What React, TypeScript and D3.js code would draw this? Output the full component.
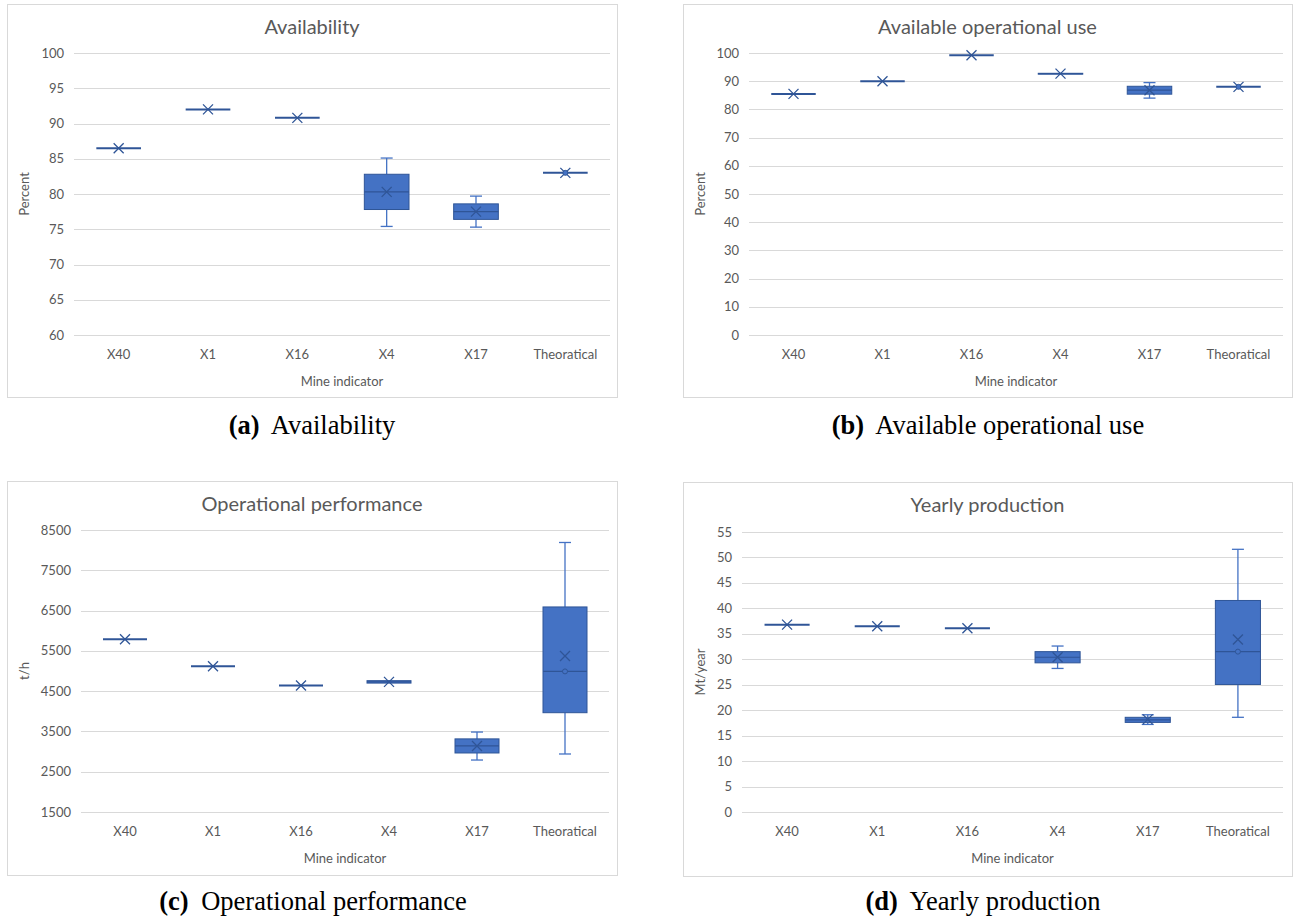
import React from 'react';
import * as d3 from 'd3';

// categories shared by all four charts
const categories = ["X40", "X1", "X16", "X4", "X17", "Theoratical"];

// [min, q1, median, q3, max, mean] per category
const availabilityStats = [
  [86.5, 86.5, 86.5, 86.5, 86.5, 86.5],
  [92, 92, 92, 92, 92, 92],
  [90.8, 90.8, 90.8, 90.8, 90.8, 90.8],
  [75.4, 77.8, 80.3, 82.8, 85.1, 80.3],
  [75.3, 76.4, 77.5, 78.6, 79.7, 77.5],
  [83, 83, 83, 83, 83, 83],
];
const availabilityInner = [null, null, null, null, null, 83];

const operationalUseStats = [
  [85.5, 85.5, 85.5, 85.5, 85.5, 85.5],
  [90, 90, 90, 90, 90, 90],
  [99.2, 99.2, 99.2, 99.2, 99.2, 99.2],
  [92.5, 92.5, 92.7, 92.8, 92.8, 92.7],
  [84.0, 85.4, 86.8, 88.2, 89.5, 86.8],
  [88, 88, 88, 88, 88, 88],
];
const operationalUseInner = [null, null, null, null, null, 88];

const performanceStats = [
  [5790, 5790, 5790, 5790, 5790, 5790],
  [5120, 5120, 5120, 5120, 5120, 5120],
  [4640, 4640, 4640, 4640, 4640, 4640],
  [4700, 4700, 4730, 4760, 4760, 4730],
  [2790, 2965, 3140, 3315, 3485, 3140],
  [2940, 3965, 4990, 6590, 8190, 5373],
];
const performanceInner = [null, null, null, null, null, 4990];

const productionStats = [
  [36.8, 36.8, 36.8, 36.8, 36.8, 36.8],
  [36.5, 36.5, 36.5, 36.5, 36.5, 36.5],
  [36.1, 36.1, 36.1, 36.1, 36.1, 36.1],
  [28.2, 29.3, 30.4, 31.5, 32.6, 30.4],
  [17.2, 17.6, 18.1, 18.6, 19.1, 18.2],
  [18.6, 25.05, 31.5, 41.55, 51.6, 33.9],
];
const productionInner = [null, null, null, null, null, 31.5];

const availabilityTicks = d3.range(60, 101, 5);
const operationalUseTicks = d3.range(0, 101, 10);
const performanceTicks = d3.range(1500, 8501, 1000);
const productionTicks = d3.range(0, 56, 5);

const FILL = "#4472C4";
const DARK = "#2F5597";
const GRID = "#D9D9D9";
const TEXT = "#595959";
const FONT = "Lato, 'Open Sans', sans-serif";

const BoxPanel = ({ frame, plot, title, yLabel, ticks, stats, inner }) => {
  const x = d3.scaleBand().domain(categories).range([plot.left, plot.right]);
  const y = d3.scaleLinear().domain([ticks[0], ticks[ticks.length - 1]]).range([plot.bottom, plot.top]);
  const bw = x.bandwidth() * 0.5;
  const cap = 6;

  return (
    <g>
      <rect x={frame.x + 0.5} y={frame.y + 0.5} width={frame.w} height={frame.h} fill="#fff" stroke={GRID} />
      <text x={frame.x + frame.w / 2} y={frame.y + 30} textAnchor="middle" fontSize={20} fill={TEXT} fontFamily={FONT}>{title}</text>

      {ticks.map(t => (
        <g key={t}>
          <line x1={plot.left} x2={plot.right} y1={Math.round(y(t)) + 0.5} y2={Math.round(y(t)) + 0.5} stroke={GRID} strokeWidth={1.2} />
          <text x={plot.left - 10} y={y(t)} dy="0.35em" textAnchor="end" fontSize={13} fill={TEXT} fontFamily={FONT}>{t}</text>
        </g>
      ))}

      {categories.map((c, i) => {
        const [mn, q1, md, q3, mx, mean] = stats[i];
        const cx = x(c) + x.bandwidth() / 2;
        const h = y(q1) - y(q3);
        const m = y(mean);
        return (
          <g key={c}>
            {mx > q3 && <line x1={cx} x2={cx} y1={y(mx)} y2={y(q3)} stroke={FILL} strokeWidth={1.3} />}
            {mn < q1 && <line x1={cx} x2={cx} y1={y(q1)} y2={y(mn)} stroke={FILL} strokeWidth={1.3} />}
            {mx > q3 && <line x1={cx - cap} x2={cx + cap} y1={y(mx)} y2={y(mx)} stroke={FILL} strokeWidth={1.3} />}
            {mn < q1 && <line x1={cx - cap} x2={cx + cap} y1={y(mn)} y2={y(mn)} stroke={FILL} strokeWidth={1.3} />}
            {h > 0 && <rect x={cx - bw / 2} y={y(q3)} width={bw} height={h} fill={FILL} stroke={DARK} strokeWidth={1} />}
            <line x1={cx - bw / 2} x2={cx + bw / 2} y1={y(md)} y2={y(md)} stroke={DARK} strokeWidth={h > 0 ? 1.2 : 2} />
            <path d={`M${cx - 5},${m - 5}L${cx + 5},${m + 5}M${cx - 5},${m + 5}L${cx + 5},${m - 5}`} stroke={DARK} strokeWidth={1.3} fill="none" />
            {inner[i] != null && <circle cx={cx} cy={y(inner[i])} r={2.5} fill={FILL} stroke={DARK} strokeWidth={1} />}
            <text x={cx} y={plot.bottom + 19} dy="0.35em" textAnchor="middle" fontSize={13} fill={TEXT} fontFamily={FONT}>{c}</text>
          </g>
        );
      })}

      <text x={(plot.left + plot.right) / 2} y={plot.bottom + 46} dy="0.35em" textAnchor="middle" fontSize={13} fill={TEXT} fontFamily={FONT}>Mine indicator</text>
      <text transform={`translate(${frame.x + 17},${(plot.top + plot.bottom) / 2}) rotate(-90)`} dy="0.35em" textAnchor="middle" fontSize={13} fill={TEXT} fontFamily={FONT}>{yLabel}</text>
    </g>
  );
};

const Caption = ({ x, y, tag, text }) => (
  <text x={x} y={y} textAnchor="middle" fontSize={26.5} fontFamily="'Liberation Serif', serif" fill="#000">
    <tspan fontWeight="bold">{tag}</tspan>
    <tspan dx={6}> {text}</tspan>
  </text>
);

export default function App() {
  return (
    <svg width={1293} height={919} style={{ position: 'absolute', left: 0, top: 0, background: '#fff' }}>
      <BoxPanel
        frame={{ x: 7, y: 4, w: 610, h: 393 }}
        plot={{ left: 74, right: 610, top: 53, bottom: 335 }}
        title="Availability" yLabel="Percent" ticks={availabilityTicks}
        stats={availabilityStats} inner={availabilityInner}
      />
      <BoxPanel
        frame={{ x: 683, y: 4, w: 609, h: 393 }}
        plot={{ left: 749, right: 1283, top: 53, bottom: 335 }}
        title="Available operational use" yLabel="Percent" ticks={operationalUseTicks}
        stats={operationalUseStats} inner={operationalUseInner}
      />
      <BoxPanel
        frame={{ x: 7, y: 481, w: 610, h: 394 }}
        plot={{ left: 81, right: 609, top: 530, bottom: 812 }}
        title="Operational performance" yLabel="t/h" ticks={performanceTicks}
        stats={performanceStats} inner={performanceInner}
      />
      <BoxPanel
        frame={{ x: 683, y: 482, w: 609, h: 394 }}
        plot={{ left: 742, right: 1283, top: 532, bottom: 812 }}
        title="Yearly production" yLabel="Mt/year" ticks={productionTicks}
        stats={productionStats} inner={productionInner}
      />
      <Caption x={312} y={434} tag="(a)" text="Availability" />
      <Caption x={988} y={434} tag="(b)" text="Available operational use" />
      <Caption x={313} y={910} tag="(c)" text="Operational performance" />
      <Caption x={983} y={910} tag="(d)" text="Yearly production" />
    </svg>
  );
}
